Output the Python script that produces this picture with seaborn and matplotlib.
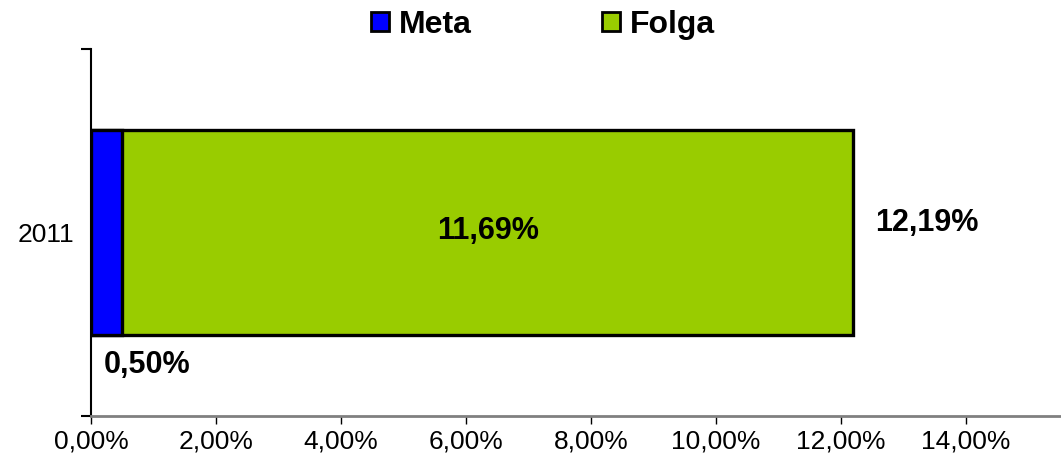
import matplotlib
matplotlib.use('Agg')
import matplotlib.pyplot as plt
import matplotlib.ticker as ticker
import matplotlib.patches as mpatches
import pandas as pd
import seaborn as sns

# data
anos = ['2011']
meta = [0.50]
folga = [11.69]
total = [m + f for m, f in zip(meta, folga)]

df = pd.DataFrame({'ano': anos, 'meta': meta, 'folga': folga, 'total': total})

sns.set_style('white')
plt.rcParams['font.family'] = ['Liberation Sans', 'DejaVu Sans']
plt.rcParams['text.color'] = 'black'
plt.rcParams['xtick.labelcolor'] = 'black'
plt.rcParams['ytick.labelcolor'] = 'black'

AZUL = '#0000FF'
VERDE = '#99CC00'

fig = plt.figure(figsize=(10.61, 4.62), dpi=100)
ax = fig.add_axes([91 / 1061, 1 - 416 / 462, 1 - 91 / 1061, (416 - 49) / 462])

# stacked: total bar (green) first, meta (blue) on top of it
sns.barplot(data=df, x='total', y='ano', orient='h', color=VERDE, saturation=1,
            width=0.56, edgecolor='black', linewidth=2.4, ax=ax)
sns.barplot(data=df, x='meta', y='ano', orient='h', color=AZUL, saturation=1,
            width=0.56, edgecolor='black', linewidth=2.4, ax=ax)

ax.set_xlim(0, 15.52)
ax.set_ylim(0.5, -0.5)
ax.set_xlabel('')
ax.set_ylabel('')

# x axis
ax.xaxis.set_major_locator(ticker.MultipleLocator(2))
ax.xaxis.set_major_formatter(ticker.FuncFormatter(lambda v, p: '{:.2f}%'.format(v).replace('.', ',')))
ax.tick_params(axis='x', direction='out', length=6, width=1, color='black',
               labelsize=19, pad=4, bottom=True)

# y axis: ticks between categories, label on the category
ax.set_yticks([0])
ax.set_yticklabels(anos)
ax.set_yticks([-0.5, 0.5], minor=True)
ax.tick_params(axis='y', which='major', length=0, labelsize=19, pad=12)
ax.tick_params(axis='y', which='minor', direction='out', length=7, width=1.5, color='black', left=True)

for s in ['top', 'right']:
    ax.spines[s].set_visible(False)
ax.spines['bottom'].set_color('#808080')
ax.spines['bottom'].set_linewidth(2)
ax.spines['left'].set_color('black')
ax.spines['left'].set_linewidth(1.5)

# value labels
fmt = lambda v: '{:.2f}%'.format(v).replace('.', ',')
ax.text(meta[0] + folga[0] / 2, -0.005, fmt(folga[0]), ha='center', va='center',
        fontsize=22, fontweight='bold')
ax.text(total[0] + 0.35, -0.025, fmt(total[0]), ha='left', va='center',
        fontsize=22, fontweight='bold')
ax.text(0.2, 0.36, fmt(meta[0]), ha='left', va='center',
        fontsize=22, fontweight='bold')

handles = [mpatches.Patch(facecolor=AZUL, edgecolor='black', linewidth=2, label='Meta'),
           mpatches.Patch(facecolor=VERDE, edgecolor='black', linewidth=2, label='Folga')]
leg = fig.legend(handles=handles, loc='center', bbox_to_anchor=(543 / 1061, 1 - 25 / 462),
                 ncol=2, frameon=False, handlelength=0.55, handleheight=0.55,
                 handletextpad=0.3, columnspacing=4.1,
                 prop={'size': 23, 'weight': 'bold'})

plt.savefig('out.png', dpi=100)
